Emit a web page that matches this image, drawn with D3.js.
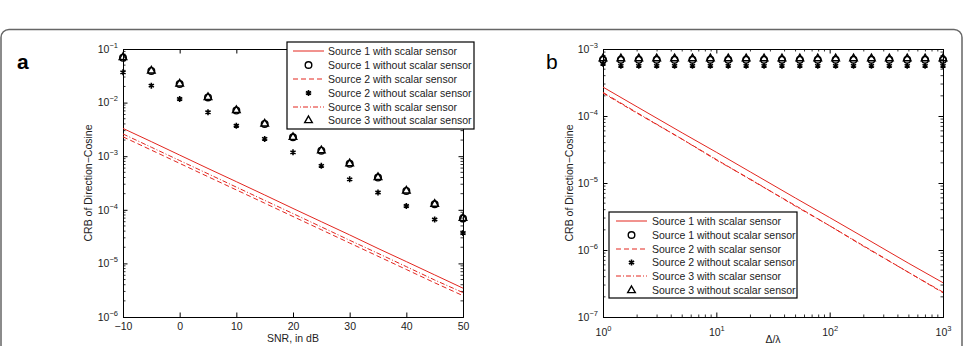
<!DOCTYPE html>
<html>
<head>
<meta charset="utf-8">
<script src="https://cdn.jsdelivr.net/npm/d3@7"></script>
<style>
  body { margin: 0; background: #fff; }
  svg { display: block; font-family: "Liberation Sans", Arial, sans-serif; }
</style>
</head>
<body>
<script>
// ---- panel a data (SNR sweep) ----
const snr = [-10, -5, 0, 5, 10, 15, 20, 25, 30, 35, 40, 45, 50];
const aS1With = [3.3e-3, 1.87e-3, 1.05e-3, 5.9e-4, 3.35e-4, 1.89e-4, 1.06e-4, 6.0e-5, 3.4e-5, 1.9e-5, 1.08e-5, 6.1e-6, 3.45e-6];
const aS2With = [2.3e-3, 1.3e-3, 7.35e-4, 4.15e-4, 2.35e-4, 1.33e-4, 7.5e-5, 4.25e-5, 2.4e-5, 1.36e-5, 7.7e-6, 4.35e-6, 2.5e-6];
const aS3With = [2.6e-3, 1.47e-3, 8.3e-4, 4.7e-4, 2.65e-4, 1.5e-4, 8.5e-5, 4.8e-5, 2.7e-5, 1.54e-5, 8.7e-6, 4.9e-6, 2.85e-6];
const aS1Without = [0.069, 0.039, 0.0222, 0.0125, 0.0071, 0.0040, 0.00225, 0.00127, 7.2e-4, 4.0e-4, 2.25e-4, 1.27e-4, 6.9e-5];
const aS2Without = [0.0367, 0.0207, 0.0117, 0.0066, 0.0037, 0.0021, 0.00118, 6.6e-4, 3.7e-4, 2.1e-4, 1.18e-4, 6.6e-5, 3.7e-5];
const aS3Without = [0.071, 0.040, 0.0228, 0.0128, 0.0073, 0.0041, 0.0023, 0.0013, 7.4e-4, 4.1e-4, 2.3e-4, 1.3e-4, 7.1e-5];
const aXTicks = [-10, 0, 10, 20, 30, 40, 50];
const aYTicks = [1e-6, 1e-5, 1e-4, 1e-3, 1e-2, 1e-1];

// ---- panel b data (aperture sweep) ----
const ratio = [1, 1.438, 2.069, 2.976, 4.281, 6.158, 8.859, 12.74, 18.33, 26.37, 37.93, 54.56, 78.48, 112.9, 162.4, 233.6, 336.0, 483.3, 695.2, 1000];
const bS1Without = [6.9e-4, 6.9e-4, 6.9e-4, 6.9e-4, 6.9e-4, 6.9e-4, 6.9e-4, 6.9e-4, 6.9e-4, 6.9e-4, 6.9e-4, 6.9e-4, 6.9e-4, 6.9e-4, 6.9e-4, 6.9e-4, 6.9e-4, 6.9e-4, 6.9e-4, 6.9e-4];
const bS2Without = [6.0e-4, 5.6e-4, 5.6e-4, 5.6e-4, 5.6e-4, 5.6e-4, 5.6e-4, 5.6e-4, 5.6e-4, 5.6e-4, 5.6e-4, 5.6e-4, 5.6e-4, 5.6e-4, 5.6e-4, 5.6e-4, 5.6e-4, 5.6e-4, 5.6e-4, 5.6e-4];
const bS3Without = [7.3e-4, 7.3e-4, 7.3e-4, 7.3e-4, 7.3e-4, 7.3e-4, 7.3e-4, 7.3e-4, 7.3e-4, 7.3e-4, 7.3e-4, 7.3e-4, 7.3e-4, 7.3e-4, 7.3e-4, 7.3e-4, 7.3e-4, 7.3e-4, 7.3e-4, 7.3e-4];
const ratioLine = [1, 2, 5, 10, 20, 50, 100, 200, 500, 1000];
const bS1With = [2.7e-4, 1.37e-4, 5.6e-5, 2.88e-5, 1.46e-5, 5.95e-6, 3.05e-6, 1.55e-6, 6.3e-7, 3.25e-7];
const bS2With = [2.2e-4, 1.1e-4, 4.5e-5, 2.25e-5, 1.12e-5, 4.6e-6, 2.3e-6, 1.15e-6, 4.6e-7, 2.3e-7];
const bS3With = [2.25e-4, 1.12e-4, 4.5e-5, 2.2e-5, 1.14e-5, 4.5e-6, 2.3e-6, 1.13e-6, 4.6e-7, 2.35e-7];
const bXTicks = [1, 10, 100, 1000];
const bYTicks = [1e-7, 1e-6, 1e-5, 1e-4, 1e-3];

const legendLabels = [
  'Source 1 with scalar sensor',
  'Source 1 without scalar sensor',
  'Source 2 with scalar sensor',
  'Source 2 without scalar sensor',
  'Source 3 with scalar sensor',
  'Source 3 without scalar sensor'
];

const red = '#e3261f';
const W = 979, H = 346;
const fs = 10.5;

const svg = d3.select('body').append('svg')
  .attr('width', W)
  .attr('height', H);

// card outline
svg.append('rect')
  .attr('x', 1).attr('y', 29.5)
  .attr('width', 961).attr('height', 400)
  .attr('rx', 8)
  .attr('fill', 'none')
  .attr('stroke', '#666')
  .attr('stroke-width', 1.5);

// 10^n label as text with superscript
function powLabel(sel, v) {
  const e = Math.round(Math.log10(v));
  sel.text('');
  sel.append('tspan').text('10');
  sel.append('tspan').attr('dy', -5).attr('font-size', 7.5).text(String(e).replace('-', '\u2212'));
}

function markers(g, xs, ys, x, y, type) {
  const pts = xs.map((d, i) => [x(d), y(ys[i])]);
  if (type === 'circle') {
    g.selectAll(null).data(pts).enter().append('circle')
      .attr('cx', d => d[0]).attr('cy', d => d[1]).attr('r', 3.3)
      .attr('fill', 'none').attr('stroke', '#000').attr('stroke-width', 1.4);
  } else if (type === 'triangle') {
    g.selectAll(null).data(pts).enter().append('path')
      .attr('d', d => `M${d[0]},${d[1] - 4}L${d[0] + 3.8},${d[1] + 2.6}L${d[0] - 3.8},${d[1] + 2.6}Z`)
      .attr('fill', 'none').attr('stroke', '#000').attr('stroke-width', 1.4);
  } else {
    g.selectAll(null).data(pts).enter().append('path')
      .attr('d', d => {
        const r = 3, c = 2.6, s = 1.5;
        return `M${d[0]},${d[1] - r}V${d[1] + r}M${d[0] - c},${d[1] - s}L${d[0] + c},${d[1] + s}M${d[0] - c},${d[1] + s}L${d[0] + c},${d[1] - s}`;
      })
      .attr('stroke', '#000').attr('stroke-width', 1.6);
  }
}

function lineSeries(g, xs, ys, x, y, dash) {
  g.append('path')
    .datum(xs.map((d, i) => [d, ys[i]]))
    .attr('d', d3.line().x(d => x(d[0])).y(d => y(d[1])))
    .attr('fill', 'none')
    .attr('stroke', red)
    .attr('stroke-width', 1)
    .attr('stroke-dasharray', dash);
}

function frame(x, y, xTicks, yTicks, xLog) {
  const [x0, x1] = x.range();
  const [y0, y1] = y.range();
  const g = svg.append('g');
  // minor ticks
  const yMinor = y.ticks().filter(v => !yTicks.some(t => Math.abs(t - v) / t < 1e-6));
  yMinor.forEach(v => {
    const py = y(v);
    g.append('line').attr('x1', x0).attr('x2', x0 + 2.5).attr('y1', py).attr('y2', py).attr('stroke', '#000').attr('stroke-width', 0.8);
    g.append('line').attr('x1', x1).attr('x2', x1 - 2.5).attr('y1', py).attr('y2', py).attr('stroke', '#000').attr('stroke-width', 0.8);
  });
  if (xLog) {
    const xMinor = x.ticks().filter(v => !xTicks.some(t => Math.abs(t - v) / t < 1e-6));
    xMinor.forEach(v => {
      const px = x(v);
      g.append('line').attr('x1', px).attr('x2', px).attr('y1', y0).attr('y2', y0 - 2.5).attr('stroke', '#000').attr('stroke-width', 0.8);
      g.append('line').attr('x1', px).attr('x2', px).attr('y1', y1).attr('y2', y1 + 2.5).attr('stroke', '#000').attr('stroke-width', 0.8);
    });
  }
  // major axes, ticks pointing inward
  const bottom = g.append('g').attr('transform', `translate(0,${y0})`)
    .call(d3.axisBottom(x).tickValues(xTicks).tickSize(-4.5).tickPadding(6)
      .tickFormat(d => xLog ? '' : String(d).replace('-', '\u2212')));
  const top = g.append('g').attr('transform', `translate(0,${y1})`)
    .call(d3.axisTop(x).tickValues(xTicks).tickSize(-4.5).tickFormat(''));
  const left = g.append('g').attr('transform', `translate(${x0},0)`)
    .call(d3.axisLeft(y).tickValues(yTicks).tickSize(-4.5).tickPadding(5).tickFormat(''));
  const right = g.append('g').attr('transform', `translate(${x1},0)`)
    .call(d3.axisRight(y).tickValues(yTicks).tickSize(-4.5).tickFormat(''));
  [bottom, top, left, right].forEach(a => {
    a.select('.domain').attr('stroke', '#000').attr('stroke-width', 1);
    a.selectAll('.tick line').attr('stroke', '#000');
    a.attr('font-family', null).attr('font-size', fs);
    a.selectAll('.tick text').attr('fill', '#222');
  });
  if (xLog) {
    bottom.selectAll('.tick text').each(function (d) { powLabel(d3.select(this), d); })
      .attr('dy', '1.2em');
  }
  left.selectAll('.tick text').each(function (d) { powLabel(d3.select(this), d); });
  return g;
}

function legend(x0, y0, w, h, rowY, sampleX0, sampleX1, textX) {
  const g = svg.append('g');
  g.append('rect').attr('x', x0).attr('y', y0).attr('width', w).attr('height', h)
    .attr('fill', '#fff').attr('stroke', '#000').attr('stroke-width', 1.2);
  const dashes = [null, null, '5,3', null, '5,2,1,2', null];
  const kinds = ['line', 'circle', 'line', 'star', 'line', 'triangle'];
  legendLabels.forEach((lab, i) => {
    const yy = y0 + rowY[i];
    if (kinds[i] === 'line') {
      g.append('line').attr('x1', sampleX0).attr('x2', sampleX1).attr('y1', yy).attr('y2', yy)
        .attr('stroke', red).attr('stroke-width', 1).attr('stroke-dasharray', dashes[i]);
    } else {
      const cx = (sampleX0 + sampleX1) / 2;
      markers(g, [cx], [yy], d => d, d => d, kinds[i]);
    }
    g.append('text').attr('x', textX).attr('y', yy).attr('dy', '0.35em')
      .attr('font-size', fs).attr('fill', '#222').text(lab);
  });
}

// ================= panel a =================
const ax = d3.scaleLinear().domain([-10, 50]).range([123, 463]);
const ay = d3.scaleLog().domain([1e-6, 1e-1]).range([317, 49]);

frame(ax, ay, aXTicks, aYTicks, false);
const ga = svg.append('g');
lineSeries(ga, snr, aS1With, ax, ay, null);
lineSeries(ga, snr, aS2With, ax, ay, '5,3');
lineSeries(ga, snr, aS3With, ax, ay, '5,2,1,2');
markers(ga, snr, aS1Without, ax, ay, 'circle');
markers(ga, snr, aS2Without, ax, ay, 'star');
markers(ga, snr, aS3Without, ax, ay, 'triangle');

legend(287, 42, 187, 87, [9, 23, 37, 51, 65, 78], 293, 324, 328);

svg.append('text').attr('x', 17).attr('y', 69).attr('font-size', 21).attr('font-weight', 'bold')
  .attr('font-family', '"Liberation Sans", Arial, sans-serif').text('a');
svg.append('text').attr('x', 293).attr('y', 342).attr('text-anchor', 'middle')
  .attr('font-size', fs).attr('fill', '#222').text('SNR, in dB');
svg.append('text').attr('transform', 'translate(92,183) rotate(-90)').attr('text-anchor', 'middle')
  .attr('font-size', fs).attr('fill', '#222').text('CRB of Direction\u2212Cosine');

// ================= panel b =================
const bx = d3.scaleLog().domain([1, 1000]).range([603, 943]);
const by = d3.scaleLog().domain([1e-7, 1e-3]).range([317, 49]);

frame(bx, by, bXTicks, bYTicks, true);
const gb = svg.append('g');
lineSeries(gb, ratioLine, bS1With, bx, by, null);
lineSeries(gb, ratioLine, bS2With, bx, by, '5,3');
lineSeries(gb, ratioLine, bS3With, bx, by, '5,2,1,2');
markers(gb, ratio, bS1Without, bx, by, 'circle');
markers(gb, ratio, bS2Without, bx, by, 'star');
markers(gb, ratio, bS3Without, bx, by, 'triangle');

legend(609, 212, 188, 86, [9, 23, 37, 50.5, 64, 78], 616, 647, 652);

svg.append('text').attr('x', 546).attr('y', 69).attr('font-size', 21)
  .text('b');
svg.append('text').attr('x', 773).attr('y', 343).attr('text-anchor', 'middle')
  .attr('font-size', fs).attr('fill', '#222').text('\u0394/\u03bb');
svg.append('text').attr('transform', 'translate(573,183) rotate(-90)').attr('text-anchor', 'middle')
  .attr('font-size', fs).attr('fill', '#222').text('CRB of Direction\u2212Cosine');
</script>
</body>
</html>
